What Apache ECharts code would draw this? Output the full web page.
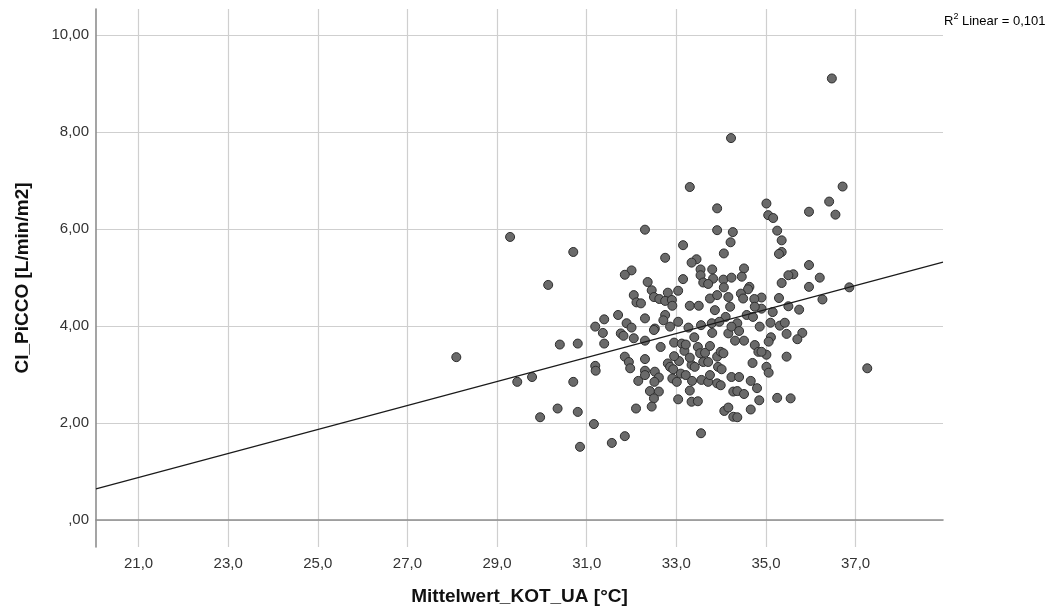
<!DOCTYPE html>
<html>
<head>
<meta charset="utf-8">
<script src="https://cdn.jsdelivr.net/npm/echarts@6/dist/echarts.min.js"></script>
<style>
  html, body { margin: 0; padding: 0; background: #fff; }
  #chart { width: 1051px; height: 612px; }
</style>
</head>
<body>
<div id="chart"></div>
<script>
// Mittelwert_KOT_UA [°C] per case
const kotUA = [
  28.09, 29.29, 29.45, 29.78, 29.96, 30.14, 34.22, 36.47,
  33.30, 33.91, 32.30, 33.91, 34.26, 30.70, 33.15, 34.21, 34.06, 32.75,
  33.45, 33.34, 32.00, 31.85, 33.54, 33.80, 33.54, 33.82, 33.15, 33.60,
  33.71, 34.05, 34.23, 34.06, 32.36, 32.45, 32.81, 33.04, 32.05, 32.50,
  32.62, 32.75, 32.90, 32.91, 32.11, 32.21, 33.75, 33.91, 33.30, 33.50,
  33.86, 34.16, 34.20, 34.10, 31.70, 31.39, 32.30, 32.75, 32.71, 33.04,
  31.89, 31.19, 32.00, 32.86, 33.27, 33.55, 33.79, 33.96, 32.52,
  36.71, 36.41, 36.55, 35.96, 35.01, 35.05, 35.16, 35.25, 35.35, 35.35,
  35.29, 35.96, 35.61, 35.50, 36.20, 35.96, 36.86, 35.35, 36.26, 35.29,
  34.90, 34.74, 35.50, 35.74, 35.15, 34.90, 34.75, 34.63, 34.60, 34.51,
  34.46, 34.44, 34.49, 34.57, 34.71, 34.86, 35.10, 35.31, 35.42, 34.36,
  30.40, 30.80, 31.19, 31.20, 30.70, 30.35, 30.80, 31.16, 31.56, 31.85,
  30.85, 31.36, 31.39, 31.76, 31.82, 32.05, 32.30, 32.50, 31.85, 31.94,
  31.97, 32.30, 32.65, 32.15, 32.30, 32.30, 32.52, 32.61, 32.51, 32.41,
  32.61, 32.50, 32.45, 32.10, 32.95, 32.81, 32.86, 32.93, 32.91, 33.06,
  33.12, 33.18, 33.21, 32.95, 33.10, 33.01, 33.21, 33.34, 33.30, 33.41,
  33.35, 33.30, 33.04, 33.34, 33.48, 33.40, 33.48, 33.53, 33.64, 33.75,
  33.80, 33.60, 33.71, 33.91, 33.99, 34.05, 33.93, 34.01, 33.56, 33.71,
  33.75, 33.91, 33.99, 34.16, 34.23, 33.55, 34.07, 34.16, 34.27, 34.27,
  34.23,
  37.26, 35.81, 35.70, 35.46, 35.46, 35.11, 35.06, 35.01, 35.01, 35.06,
  34.40, 34.51, 34.31, 34.75, 34.83, 34.90, 34.70, 34.40, 34.66, 34.80,
  34.36, 34.51, 34.85, 35.25, 35.55, 34.66, 34.36
];

// CI_PiCCO [L/min/m2] per case
const ciPicco = [
  3.36, 5.84, 2.85, 2.95, 2.12, 4.85, 7.88, 9.11,
  6.87, 6.43, 5.99, 5.98, 5.94, 5.53, 5.67, 5.73, 5.50, 5.41,
  5.38, 5.31, 5.15, 5.06, 5.17, 5.17, 5.05, 4.98, 4.97, 4.90,
  4.87, 4.96, 5.00, 4.80, 4.91, 4.74, 4.69, 4.73, 4.64, 4.60,
  4.56, 4.52, 4.54, 4.42, 4.49, 4.47, 4.57, 4.64, 4.42, 4.42,
  4.33, 4.60, 4.40, 4.19, 4.23, 4.14, 4.16, 4.23, 4.12, 4.09,
  4.06, 3.99, 3.97, 3.99, 3.97, 4.02, 4.06, 4.09, 3.95,
  6.88, 6.57, 6.30, 6.36, 6.53, 6.29, 6.23, 5.97, 5.77, 5.53,
  5.49, 5.26, 5.07, 5.05, 5.00, 4.81, 4.80, 4.89, 4.55, 4.58,
  4.59, 4.56, 4.41, 4.34, 4.29, 4.36, 4.40, 4.81, 4.76, 5.19,
  5.02, 4.67, 4.57, 4.23, 4.19, 3.99, 4.07, 4.01, 4.07, 4.06,
  3.62, 3.64, 3.18, 3.08, 2.85, 2.30, 2.23, 1.98, 1.59, 1.73,
  1.51, 3.86, 3.64, 3.85, 3.80, 3.75, 3.70, 3.92, 3.37, 3.26,
  3.13, 3.32, 3.57, 2.87, 3.08, 2.99, 3.06, 2.94, 2.85, 2.66,
  2.65, 2.51, 2.34, 2.30, 3.66, 3.23, 3.16, 3.11, 2.92, 3.28,
  3.64, 3.49, 3.62, 3.38, 3.02, 2.85, 2.99, 3.20, 3.35, 3.16,
  2.87, 2.67, 2.49, 2.44, 2.45, 3.77, 3.57, 3.44, 3.45, 3.59,
  3.86, 3.26, 3.26, 3.37, 3.47, 3.44, 3.16, 3.11, 2.89, 2.85,
  2.99, 2.82, 2.78, 3.85, 3.99, 1.79, 2.25, 2.32, 2.65, 2.13,
  2.95,
  3.13, 3.86, 3.73, 3.84, 3.37, 3.77, 3.68, 3.41, 3.16, 3.04,
  3.90, 3.70, 3.70, 3.61, 3.47, 3.47, 3.24, 2.95, 2.87, 2.72,
  2.66, 2.60, 2.47, 2.52, 2.51, 2.28, 2.12
];

// Linear fit (CI = intercept + slope * KOT) and its R²
const fitIntercept = -4.32;
const fitSlope = 0.2475;
const rSquared = '0,101';

// Axis extents and labelled tick values
const xRange = [20.05, 38.95];
const yRange = [-0.557, 10.543];
const xTicks = [21, 23, 25, 27, 29, 31, 33, 35, 37];
const yTicks = [0, 2, 4, 6, 8, 10];

const points = kotUA.map((x, i) => [x, ciPicco[i]]);
const fitLine = xRange.map(x => [x, fitIntercept + fitSlope * x]);

const FONT = '"Liberation Sans", Arial, Helvetica, sans-serif';
const gridLine = { show: true, lineStyle: { color: '#cfcfcf', width: 1.2 } };
const axisLine = { show: true, lineStyle: { color: '#8e8e8e', width: 1.6 } };

const chart = echarts.init(document.getElementById('chart'), null, { renderer: 'canvas' });
chart.setOption({
  animation: false,
  backgroundColor: '#ffffff',
  grid: { left: 96, right: 108, top: 9, bottom: 65, containLabel: false },
  xAxis: {
    type: 'value',
    min: xRange[0],
    max: xRange[1],
    name: 'Mittelwert_KOT_UA [°C]',
    nameLocation: 'middle',
    nameGap: 40,
    nameTextStyle: { fontFamily: FONT, fontSize: 19, fontWeight: 'bold', color: '#111' },
    axisLine: axisLine,
    axisTick: { show: false, customValues: xTicks },
    splitLine: gridLine,
    axisLabel: {
      customValues: xTicks,
      fontFamily: FONT, fontSize: 15, color: '#333',
      margin: 9,
      formatter: v => v.toFixed(1).replace('.', ',')
    }
  },
  yAxis: {
    type: 'value',
    min: yRange[0],
    max: yRange[1],
    name: 'CI_PiCCO [L/min/m2]',
    nameLocation: 'middle',
    nameGap: 64,
    nameTextStyle: { fontFamily: FONT, fontSize: 19, fontWeight: 'bold', color: '#111' },
    axisLine: axisLine,
    axisTick: { show: false, customValues: yTicks },
    splitLine: gridLine,
    axisLabel: {
      customValues: yTicks,
      fontFamily: FONT, fontSize: 15, color: '#333',
      margin: 7,
      formatter: v => v.toFixed(2).replace('.', ',').replace(/^0,/, ',')
    }
  },
  series: [
    {
      type: 'scatter',
      data: points,
      symbol: 'circle',
      symbolSize: 9,
      itemStyle: { color: '#6a6a6a', borderColor: '#2e2e2e', borderWidth: 1, opacity: 1 },
      z: 2,
      silent: true
    },
    {
      type: 'line',
      data: fitLine,
      showSymbol: false,
      symbol: 'none',
      lineStyle: { color: '#1a1a1a', width: 1.1 },
      z: 3,
      silent: true
    }
  ],
  graphic: [
    {
      type: 'text',
      left: 944,
      top: 12,
      style: {
        text: '{a|R}{s|2}{a| Linear = ' + rSquared + '}',
        rich: {
          a: { fontFamily: FONT, fontSize: 13, color: '#222', lineHeight: 16, verticalAlign: 'bottom' },
          s: { fontFamily: FONT, fontSize: 9, color: '#222', lineHeight: 16, verticalAlign: 'top' }
        }
      }
    }
  ]
});
</script>
</body>
</html>
